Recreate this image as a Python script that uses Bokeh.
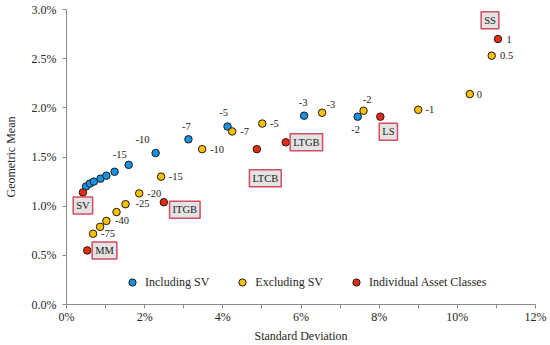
from bokeh.plotting import figure
from bokeh.models import (ColumnDataSource, LabelSet, Label, Legend, LegendItem,
                          PrintfTickFormatter, FixedTicker, Range1d)
from bokeh.embed import file_html
from bokeh.resources import INLINE

# ---- data (percent units) ----
incl_sd = [0.50, 0.60, 0.70, 0.87, 1.02, 1.23, 1.59, 2.28, 3.12, 4.12, 6.08, 7.45]
incl_gm = [1.20, 1.23, 1.25, 1.28, 1.31, 1.35, 1.42, 1.54, 1.68, 1.81, 1.92, 1.91]
incl_lab = ["", "", "", "", "", "", "-15", "-10", "-7", "-5", "-3", "-2"]

excl_sd = [0.68, 0.86, 1.02, 1.28, 1.51, 1.86, 2.42, 3.47, 4.24, 5.01, 6.54, 7.60, 9.00, 10.32, 10.88]
excl_gm = [0.72, 0.79, 0.85, 0.94, 1.02, 1.13, 1.30, 1.58, 1.76, 1.84, 1.95, 1.97, 1.98, 2.14, 2.53]
excl_lab = ["-75", "", "-40", "", "-25", "-20", "-15", "-10", "-7", "-5", "-3", "-2", "-1", "0", "0.5"]

asset_names = ["SV", "MM", "ITGB", "LTCB", "LTGB", "LS", "SS"]
asset_sd = [0.42, 0.53, 2.49, 4.87, 5.61, 8.03, 11.04]
asset_gm = [1.14, 0.55, 1.04, 1.58, 1.65, 1.91, 2.70]
asset_num = ["", "", "", "", "", "", "1"]

x_ticks = [0, 2, 4, 6, 8, 10, 12]
y_ticks = [0.0, 0.5, 1.0, 1.5, 2.0, 2.5, 3.0]

# ---- label placement (pixels, up positive) ----
incl_dx = [0, 0, 0, 0, 0, 0, -9, -13, -2, -4, -1, -2]
incl_dy = [0, 0, 0, 0, 0, 0, 10.5, 14, 13, 13.7, 13, -12.7]
excl_dx = [8, 0, 8.7, 0, 10, 8, 7.7, 8, 8, 7.7, 4.4, -0.8, 7.3, 7, 8.3]
excl_dy = [0, 0, 0, 0, 0.5, 0, 0, 0, 0, 0, 8, 11.3, 0, 0, 0]
box_dx = [0, 17.3, 21, 8.5, 20.6, 8, -8]
box_dy = [-13, 0, -7.6, -29, 0, -15, 18.7]

BLUE = "#1593e2"
YELLOW = "#ffc000"
RED = "#ee2a0c"
FONT = "Liberation Serif"

p = figure(width=550, height=345, output_backend="svg", toolbar_location=None,
           x_range=Range1d(0, 12), y_range=Range1d(0, 3.0),
           min_border_left=63, min_border_right=15, min_border_top=9, min_border_bottom=40)
p.outline_line_color = None
p.xgrid.visible = False
p.ygrid.visible = False
p.background_fill_color = "white"

src_i = ColumnDataSource(dict(x=incl_sd, y=incl_gm, t=incl_lab, dx=incl_dx, dy=incl_dy))
src_e = ColumnDataSource(dict(x=excl_sd, y=excl_gm, t=excl_lab, dx=excl_dx, dy=excl_dy))
src_a = ColumnDataSource(dict(x=asset_sd, y=asset_gm, t=asset_num))

r_i = p.scatter("x", "y", source=src_i, size=7.5, fill_color=BLUE, line_color="#1a1a1a", line_width=1)
r_e = p.scatter("x", "y", source=src_e, size=7.5, fill_color=YELLOW, line_color="#1a1a1a", line_width=1)
r_a = p.scatter("x", "y", source=src_a, size=7.5, fill_color=RED, line_color="#1a1a1a", line_width=1)

p.add_layout(LabelSet(x="x", y="y", text="t", source=src_i, x_offset="dx", y_offset="dy",
                      text_align="center", text_baseline="middle", text_font=FONT,
                      text_font_size="10.5px", text_color="#1a1a1a"))
p.add_layout(LabelSet(x="x", y="y", text="t", source=src_e, x_offset="dx", y_offset="dy",
                      text_align="left", text_baseline="middle", text_font=FONT,
                      text_font_size="10.5px", text_color="#1a1a1a"))
p.add_layout(LabelSet(x="x", y="y", text="t", source=src_a, x_offset=8.4, y_offset=0,
                      text_align="left", text_baseline="middle", text_font=FONT,
                      text_font_size="10.5px", text_color="#1a1a1a"))

for name, xs, ys, dx, dy in zip(asset_names, asset_sd, asset_gm, box_dx, box_dy):
    p.add_layout(Label(x=xs, y=ys, text=name, x_offset=dx, y_offset=dy,
                       text_align="center", text_baseline="middle", text_font=FONT,
                       text_font_size="10.5px", text_color="#1a1a1a",
                       background_fill_color="#e3e3e3", border_line_color="#d64b62",
                       border_line_width=1.5, padding=3))

# axes
for ax in (p.xaxis[0], p.yaxis[0]):
    ax.axis_line_color = "#8a8a8a"
    ax.major_tick_line_color = "#8a8a8a"
    ax.minor_tick_line_color = "#8a8a8a"
    ax.major_tick_in = 0
    ax.major_tick_out = 4
    ax.minor_tick_in = 0
    ax.major_label_text_font = FONT
    ax.major_label_text_font_size = "12px"
    ax.major_label_text_color = "#262626"
    ax.axis_label_text_font = FONT
    ax.axis_label_text_font_size = "12px"
    ax.axis_label_text_font_style = "normal"
    ax.axis_label_text_color = "#262626"

p.xaxis.ticker = FixedTicker(ticks=x_ticks, minor_ticks=[1, 3, 5, 7, 9, 11])
p.xaxis.minor_tick_out = 4
p.xaxis.formatter = PrintfTickFormatter(format="%d%%")
p.xaxis.axis_label = "Standard Deviation"
p.xaxis.major_label_standoff = 1
p.xaxis.axis_label_standoff = 2

p.yaxis.ticker = FixedTicker(ticks=y_ticks, minor_ticks=[])
p.yaxis.minor_tick_out = 0
p.yaxis.formatter = PrintfTickFormatter(format="%.1f%%")
p.yaxis.axis_label = "Geometric Mean"
p.yaxis.major_label_standoff = 6
p.yaxis.axis_label_standoff = 11

legend = Legend(items=[LegendItem(label="Including SV", renderers=[r_i]),
                       LegendItem(label="Excluding SV", renderers=[r_e]),
                       LegendItem(label="Individual Asset Classes", renderers=[r_a])],
                orientation="horizontal", location=(57, 13),
                glyph_width=18, glyph_height=18, label_height=18,
                label_standoff=4, spacing=24, padding=0, margin=0,
                border_line_color=None, background_fill_alpha=0,
                label_text_font=FONT, label_text_font_size="12px",
                label_text_color="#262626")
p.add_layout(legend, "center")

open("out.html", "w").write(file_html(p, INLINE))
